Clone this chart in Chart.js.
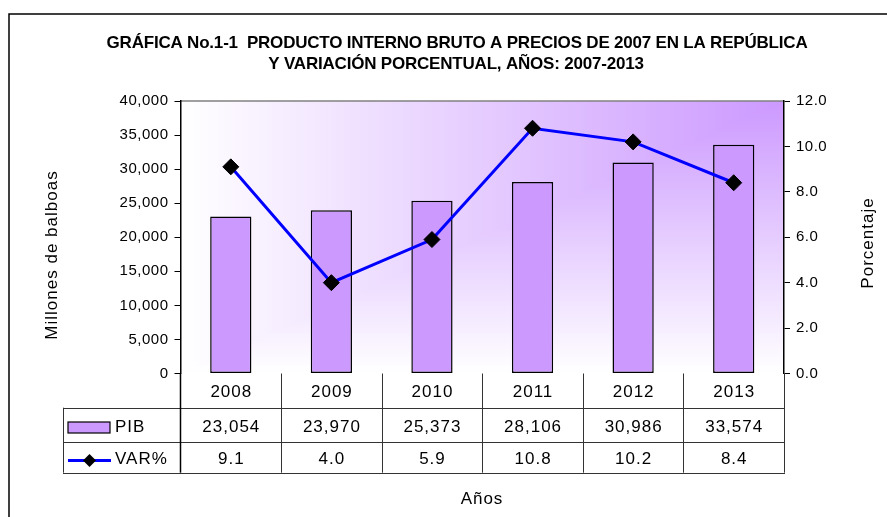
<!DOCTYPE html>
<html>
<head>
<meta charset="utf-8">
<script src="https://cdn.jsdelivr.net/npm/chart.js@4.4.1/dist/chart.umd.min.js"></script>
<style>
  html, body { margin: 0; padding: 0; background: #fff; }
  #wrap { width: 887px; height: 517px; }
</style>
</head>
<body>
<div id="wrap"><canvas id="pibChart" width="887" height="517"></canvas></div>
<script>
// datos de la gráfica
const years = ['2008', '2009', '2010', '2011', '2012', '2013'];
const pib = [23054, 23970, 25373, 28106, 30986, 33574];
const variacion = [9.1, 4.0, 5.9, 10.8, 10.2, 8.4];
const pibTicks = [0, 5000, 10000, 15000, 20000, 25000, 30000, 35000, 40000];
const varTicks = [0, 2, 4, 6, 8, 10, 12];

const titleLines = [
    'GRÁFICA No.1-1  PRODUCTO INTERNO BRUTO A PRECIOS DE 2007 EN LA REPÚBLICA',
    'Y VARIACIÓN PORCENTUAL, AÑOS: 2007-2013'
];

const FONT = '"Liberation Sans", Arial, sans-serif';
const PURPLE = '#cc99ff';
const BLUE = '#0000ff';

const fmtMiles = v => v.toLocaleString('en-US');
const fmtPct = v => v.toFixed(1);

function diamond(ctx, x, y, r) {
    ctx.beginPath();
    ctx.moveTo(x, y - r);
    ctx.lineTo(x + r, y);
    ctx.lineTo(x, y + r);
    ctx.lineTo(x - r, y);
    ctx.closePath();
    ctx.fill();
}

// fondo degradado, marco y título
const backgroundPlugin = {
    id: 'background',
    beforeDraw(chart) {
        const ctx = chart.ctx;
        const a = chart.chartArea;
        ctx.save();

        // degradado desde la esquina superior derecha
        const hGrad = ctx.createLinearGradient(a.left, 0, a.right, 0);
        hGrad.addColorStop(0, '#ffffff');
        hGrad.addColorStop(1, PURPLE);
        const vGrad = ctx.createLinearGradient(0, a.bottom, 0, a.top);
        vGrad.addColorStop(0, '#ffffff');
        vGrad.addColorStop(1, PURPLE);

        ctx.fillStyle = vGrad;
        ctx.fillRect(a.left, a.top, a.right - a.left, a.bottom - a.top);

        ctx.save();
        ctx.beginPath();
        ctx.moveTo(a.left, a.top);
        ctx.lineTo(a.right, a.top);
        ctx.lineTo(a.left, a.bottom);
        ctx.closePath();
        ctx.clip();
        ctx.fillStyle = hGrad;
        ctx.fillRect(a.left, a.top, a.right - a.left, a.bottom - a.top);
        ctx.restore();

        // borde superior del área de trazado
        ctx.strokeStyle = '#808080';
        ctx.lineWidth = 1.5;
        ctx.beginPath();
        ctx.moveTo(a.left, a.top);
        ctx.lineTo(a.right, a.top);
        ctx.stroke();

        // marco exterior
        ctx.strokeStyle = '#000';
        ctx.lineWidth = 1.5;
        ctx.beginPath();
        ctx.moveTo(9, 530);
        ctx.lineTo(9, 14);
        ctx.lineTo(900, 14);
        ctx.stroke();

        // título
        ctx.fillStyle = '#000';
        ctx.font = 'bold 17px ' + FONT;
        ctx.textAlign = 'center';
        ctx.textBaseline = 'alphabetic';
        ctx.letterSpacing = '-0.2px';
        ctx.fillText(titleLines[0], 457, 48);
        ctx.fillText(titleLines[1], 456, 69);
        ctx.restore();

        ctx.letterSpacing = '0.5px';
    }
};

// tabla de datos, títulos de ejes
const tablePlugin = {
    id: 'dataTable',
    afterDraw(chart) {
        const ctx = chart.ctx;
        const a = chart.chartArea;
        const xs = chart.scales.x;
        const n = years.length;
        const cw = (xs.right - xs.left) / n;
        const px = v => Math.round(v) + 0.5;

        const r0 = a.bottom, r1 = 407.7, r2 = 441.7, r3 = 472.7;
        const legLeft = 63;

        ctx.save();
        ctx.letterSpacing = '0px';
        ctx.strokeStyle = '#333';
        ctx.lineWidth = 1;
        ctx.beginPath();
        [r1, r2, r3].forEach(y => {
            ctx.moveTo(legLeft, px(y));
            ctx.lineTo(xs.right + 1, px(y));
        });
        ctx.moveTo(px(legLeft), r1);
        ctx.lineTo(px(legLeft), r3);
        for (let i = 1; i <= n; i++) {
            const x = px(xs.left + i * cw);
            ctx.moveTo(x, r0);
            ctx.lineTo(x, r3);
        }
        ctx.stroke();

        // prolongación del eje izquierdo
        ctx.strokeStyle = '#000';
        ctx.lineWidth = 1.5;
        ctx.beginPath();
        ctx.moveTo(a.left, r0);
        ctx.lineTo(a.left, r3);
        ctx.stroke();

        // textos de la tabla
        ctx.fillStyle = '#000';
        ctx.font = '17px ' + FONT;
        ctx.letterSpacing = '1px';
        ctx.textAlign = 'center';
        ctx.textBaseline = 'alphabetic';
        years.forEach((yr, i) => {
            const cx = xs.getPixelForValue(i) + 0.5;
            ctx.fillText(yr, cx, 396.5);
            ctx.fillText(fmtMiles(pib[i]), cx, 431.5);
            ctx.fillText(fmtPct(variacion[i]), cx, 463.5);
        });

        // claves de la leyenda
        ctx.fillStyle = PURPLE;
        ctx.fillRect(68, 422, 42, 11);
        ctx.strokeStyle = '#000';
        ctx.lineWidth = 1.2;
        ctx.strokeRect(68, 422, 42, 11);

        ctx.strokeStyle = BLUE;
        ctx.lineWidth = 3;
        ctx.beginPath();
        ctx.moveTo(68, 460.5);
        ctx.lineTo(111, 460.5);
        ctx.stroke();
        ctx.fillStyle = '#000';
        diamond(ctx, 89.5, 460.5, 6.5);

        ctx.textAlign = 'left';
        ctx.fillText('PIB', 115, 431.5);
        ctx.fillText('VAR%', 115, 463.5);

        // títulos de ejes
        ctx.textAlign = 'center';
        ctx.textBaseline = 'middle';
        ctx.fillText('Años', 482, 499);

        ctx.save();
        ctx.translate(52.5, 255);
        ctx.rotate(-Math.PI / 2);
        ctx.fillText('Millones de balboas', 0, 0);
        ctx.restore();

        ctx.save();
        ctx.translate(868, 243);
        ctx.rotate(-Math.PI / 2);
        ctx.fillText('Porcentaje', 0, 0);
        ctx.restore();

        ctx.restore();
    }
};

const ctx = document.getElementById('pibChart').getContext('2d');
new Chart(ctx, {
    type: 'bar',
    data: {
        labels: years,
        datasets: [
            {
                type: 'line',
                label: 'VAR%',
                data: variacion,
                yAxisID: 'y1',
                order: 0,
                borderColor: BLUE,
                borderWidth: 3,
                pointStyle: 'rectRot',
                pointRadius: 8,
                pointBackgroundColor: '#000',
                pointBorderColor: '#000',
                pointBorderWidth: 1,
                tension: 0,
                fill: false
            },
            {
                type: 'bar',
                label: 'PIB',
                data: pib,
                yAxisID: 'y',
                order: 1,
                backgroundColor: PURPLE,
                borderColor: '#000',
                borderWidth: 1.5,
                borderSkipped: false,
                categoryPercentage: 1,
                barPercentage: 0.41
            }
        ]
    },
    options: {
        responsive: false,
        animation: false,
        events: [],
        layout: {
            padding: { left: 0, right: 0, top: 101, bottom: 143.5 }
        },
        plugins: {
            legend: { display: false },
            title: { display: false },
            tooltip: { enabled: false }
        },
        scales: {
            x: {
                display: false,
                offset: true
            },
            y: {
                position: 'left',
                min: pibTicks[0],
                max: pibTicks[pibTicks.length - 1],
                afterBuildTicks: s => { s.ticks = pibTicks.map(v => ({ value: v })); },
                afterFit: s => { s.width = 180.5; },
                ticks: {
                    callback: v => fmtMiles(v),
                    color: '#000',
                    font: { family: FONT, size: 15 },
                    padding: 6
                },
                grid: {
                    drawOnChartArea: false,
                    drawTicks: true,
                    tickLength: 6,
                    tickColor: '#000'
                },
                border: { display: true, color: '#000', width: 1.5 }
            },
            y1: {
                position: 'right',
                min: varTicks[0],
                max: varTicks[varTicks.length - 1],
                afterBuildTicks: s => { s.ticks = varTicks.map(v => ({ value: v })); },
                afterFit: s => { s.width = 103; },
                ticks: {
                    callback: v => fmtPct(v),
                    color: '#000',
                    font: { family: FONT, size: 15 },
                    padding: 6
                },
                grid: {
                    drawOnChartArea: false,
                    drawTicks: true,
                    tickLength: 6,
                    tickColor: '#000'
                },
                border: { display: true, color: '#000', width: 1.5 }
            }
        }
    },
    plugins: [backgroundPlugin, tablePlugin]
});
</script>
</body>
</html>
